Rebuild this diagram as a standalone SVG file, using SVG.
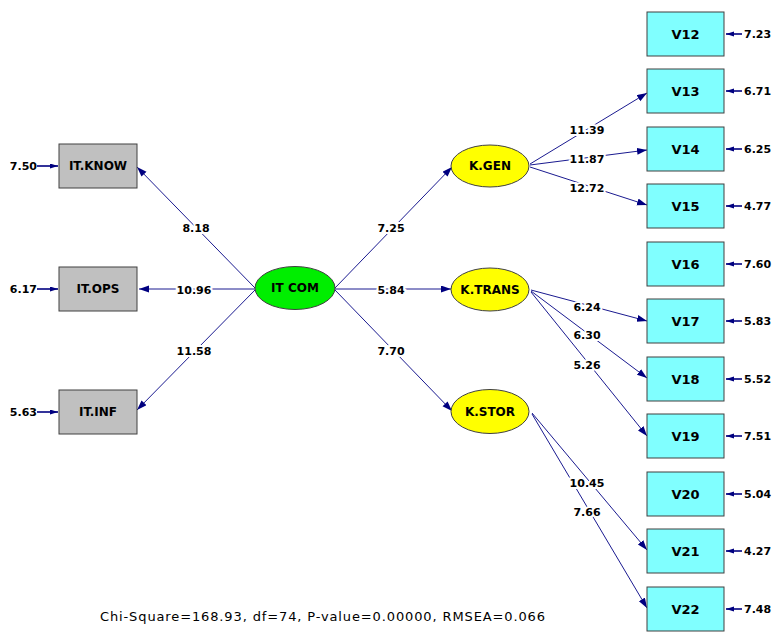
<svg xmlns="http://www.w3.org/2000/svg" width="774" height="636" viewBox="0 0 774 636">
<defs>
<marker id="ah" markerUnits="userSpaceOnUse" markerWidth="11" markerHeight="8" refX="10" refY="3.5" orient="auto"><path d="M0,0 L10,3.5 L0,7 z" fill="#000080"/></marker>
<marker id="eh" markerUnits="userSpaceOnUse" markerWidth="9" markerHeight="6" refX="8" refY="2.5" orient="auto"><path d="M0,0 L8,2.5 L0,5 z" fill="#000080"/></marker>
<style>
.c{stroke:#1a1a90;stroke-width:1;fill:none;marker-end:url(#ah)}
.e{stroke:#000080;stroke-width:1.6;fill:none;marker-end:url(#eh)}
.lb{font-family:"DejaVu Sans",Verdana,sans-serif;font-size:11px;font-weight:bold;fill:#000;text-anchor:middle;paint-order:stroke;stroke:#fff;stroke-width:4px}
.el{font-family:"DejaVu Sans",Verdana,sans-serif;font-size:11px;font-weight:bold;fill:#000}
.nt{font-family:"DejaVu Sans",Verdana,sans-serif;font-size:12px;font-weight:bold;fill:#000;text-anchor:middle}
.vt{font-family:"DejaVu Sans",Verdana,sans-serif;font-size:13px;font-weight:bold;fill:#000;text-anchor:middle}
.gb{fill:#c0c0c0;stroke:#404040;stroke-width:1}
.cb{fill:#80ffff;stroke:#404040;stroke-width:1}
.ye{fill:#ffff00;stroke:#404040;stroke-width:1}
.gr{fill:#00ee00;stroke:#404040;stroke-width:1}
</style>
</defs>
<rect width="774" height="636" fill="#fff"/>
<g id="connectors">
<line class="c" x1="255" y1="288" x2="137" y2="167"/>
<line class="c" x1="255" y1="289" x2="139" y2="289"/>
<line class="c" x1="255" y1="290" x2="137" y2="410"/>
<line class="c" x1="335" y1="288" x2="452" y2="167"/>
<line class="c" x1="335" y1="289" x2="451" y2="289"/>
<line class="c" x1="335" y1="290" x2="452" y2="411"/>
<line class="c" x1="530" y1="164" x2="647" y2="93"/>
<line class="c" x1="530" y1="165" x2="647" y2="150"/>
<line class="c" x1="530" y1="167" x2="647" y2="205"/>
<line class="c" x1="531" y1="290" x2="647" y2="321"/>
<line class="c" x1="531" y1="291" x2="647" y2="378"/>
<line class="c" x1="531" y1="292" x2="647" y2="436"/>
<line class="c" x1="532" y1="413" x2="647" y2="550"/>
<line class="c" x1="532" y1="414" x2="647" y2="608"/>
<text class="lb" x="196" y="232">8.18</text>
<text class="lb" x="194" y="294">10.96</text>
<text class="lb" x="194" y="355">11.58</text>
<text class="lb" x="391" y="232">7.25</text>
<text class="lb" x="391" y="294">5.84</text>
<text class="lb" x="391" y="355">7.70</text>
<text class="lb" x="587" y="134">11.39</text>
<text class="lb" x="587" y="163">11.87</text>
<text class="lb" x="587" y="192">12.72</text>
<text class="lb" x="587" y="311">6.24</text>
<text class="lb" x="587" y="339">6.30</text>
<text class="lb" x="587" y="369">5.26</text>
<text class="lb" x="587" y="487">10.45</text>
<text class="lb" x="587" y="516">7.66</text>
<line class="e" x1="37" y1="166" x2="58" y2="166"/>
<line class="e" x1="37" y1="289" x2="58" y2="289"/>
<line class="e" x1="37" y1="412" x2="58" y2="412"/>
<line class="e" x1="742" y1="34" x2="726" y2="34"/>
<line class="e" x1="742" y1="91" x2="726" y2="91"/>
<line class="e" x1="742" y1="149" x2="726" y2="149"/>
<line class="e" x1="742" y1="206" x2="726" y2="206"/>
<line class="e" x1="742" y1="264" x2="726" y2="264"/>
<line class="e" x1="742" y1="321" x2="726" y2="321"/>
<line class="e" x1="742" y1="379" x2="726" y2="379"/>
<line class="e" x1="742" y1="436" x2="726" y2="436"/>
<line class="e" x1="742" y1="494" x2="726" y2="494"/>
<line class="e" x1="742" y1="551" x2="726" y2="551"/>
<line class="e" x1="742" y1="609" x2="726" y2="609"/>
<text class="el" x="37" y="170" text-anchor="end">7.50</text>
<text class="el" x="37" y="293" text-anchor="end">6.17</text>
<text class="el" x="37" y="416" text-anchor="end">5.63</text>
<text class="el" x="744" y="38">7.23</text>
<text class="el" x="744" y="95">6.71</text>
<text class="el" x="744" y="153">6.25</text>
<text class="el" x="744" y="210">4.77</text>
<text class="el" x="744" y="268">7.60</text>
<text class="el" x="744" y="325">5.83</text>
<text class="el" x="744" y="383">5.52</text>
<text class="el" x="744" y="440">7.51</text>
<text class="el" x="744" y="498">5.04</text>
<text class="el" x="744" y="555">4.27</text>
<text class="el" x="744" y="613">7.48</text>
</g>
<g id="it-know"><rect class="gb" x="59" y="144" width="78" height="44"/><text class="nt" x="98" y="170">IT.KNOW</text></g>
<g id="it-ops"><rect class="gb" x="59" y="267" width="78" height="44"/><text class="nt" x="98" y="293">IT.OPS</text></g>
<g id="it-inf"><rect class="gb" x="59" y="390" width="78" height="44"/><text class="nt" x="98" y="416">IT.INF</text></g>
<g id="it-com"><ellipse class="gr" cx="295" cy="288" rx="40" ry="21.5"/><text class="nt" x="295" y="292">IT COM</text></g>
<g id="k-gen"><ellipse class="ye" cx="490" cy="166" rx="39" ry="21"/><text class="nt" x="490" y="170">K.GEN</text></g>
<g id="k-trans"><ellipse class="ye" cx="490" cy="289.5" rx="39" ry="21.5"/><text class="nt" x="490" y="294">K.TRANS</text></g>
<g id="k-stor"><ellipse class="ye" cx="490" cy="411.5" rx="39" ry="22"/><text class="nt" x="490" y="416">K.STOR</text></g>
<g id="v12"><rect class="cb" x="647" y="12" width="77" height="44"/><text class="vt" x="685.5" y="39">V12</text></g>
<g id="v13"><rect class="cb" x="647" y="69" width="77" height="44"/><text class="vt" x="685.5" y="96">V13</text></g>
<g id="v14"><rect class="cb" x="647" y="127" width="77" height="44"/><text class="vt" x="685.5" y="154">V14</text></g>
<g id="v15"><rect class="cb" x="647" y="184" width="77" height="44"/><text class="vt" x="685.5" y="211">V15</text></g>
<g id="v16"><rect class="cb" x="647" y="242" width="77" height="44"/><text class="vt" x="685.5" y="269">V16</text></g>
<g id="v17"><rect class="cb" x="647" y="299" width="77" height="44"/><text class="vt" x="685.5" y="326">V17</text></g>
<g id="v18"><rect class="cb" x="647" y="357" width="77" height="44"/><text class="vt" x="685.5" y="384">V18</text></g>
<g id="v19"><rect class="cb" x="647" y="414" width="77" height="44"/><text class="vt" x="685.5" y="441">V19</text></g>
<g id="v20"><rect class="cb" x="647" y="472" width="77" height="44"/><text class="vt" x="685.5" y="499">V20</text></g>
<g id="v21"><rect class="cb" x="647" y="529" width="77" height="44"/><text class="vt" x="685.5" y="556">V21</text></g>
<g id="v22"><rect class="cb" x="647" y="587" width="77" height="44"/><text class="vt" x="685.5" y="614">V22</text></g>
<text x="100" y="621" font-family="'DejaVu Sans',Verdana,sans-serif" font-size="13" fill="#000" textLength="445">Chi-Square=168.93, df=74, P-value=0.00000, RMSEA=0.066</text>
</svg>
